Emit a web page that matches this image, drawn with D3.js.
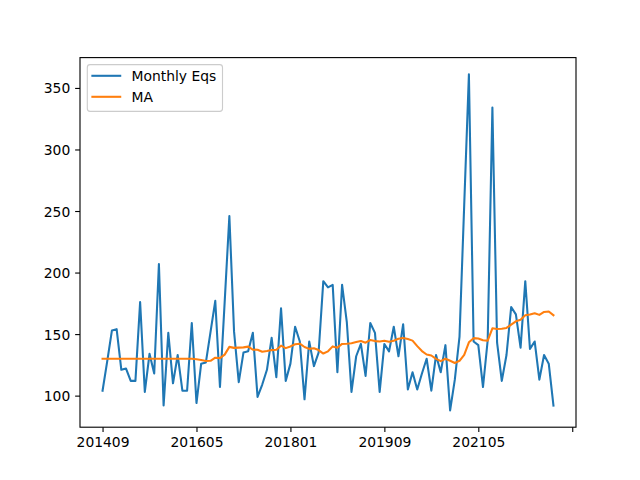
<!DOCTYPE html>
<html>
<head>
<meta charset="utf-8">
<script src="https://cdn.jsdelivr.net/npm/d3@7"></script>
<style>
  html, body { margin: 0; padding: 0; background: #ffffff; }
  svg { display: block; }
  text { font-family: "DejaVu Sans", sans-serif; }
</style>
</head>
<body>
<script>
const months = [
  "201409","201410","201411","201412",
  "201501","201502","201503","201504","201505","201506","201507","201508","201509","201510","201511","201512",
  "201601","201602","201603","201604","201605","201606","201607","201608","201609","201610","201611","201612",
  "201701","201702","201703","201704","201705","201706","201707","201708","201709","201710","201711","201712",
  "201801","201802","201803","201804","201805","201806","201807","201808","201809","201810","201811","201812",
  "201901","201902","201903","201904","201905","201906","201907","201908","201909","201910","201911","201912",
  "202001","202002","202003","202004","202005","202006","202007","202008","202009","202010","202011","202012",
  "202101","202102","202103","202104","202105","202106","202107","202108","202109","202110","202111","202112",
  "202201","202202","202203","202204","202205","202206","202207","202208","202209"
];

const monthlyEqs = [
  104,128,153,154,121,122,112,112,176,103,134,118,207,92,151,110,133,104,104,159,
  94,126,127,152,177,107,176,246,152,111,135,136,151,99,109,121,147,115,171,112,
  126,156,144,97,144,124,135,193,188,190,119,190,160,103,132,142,116,159,151,103,
  142,136,156,132,158,105,119,105,118,130,104,133,119,141,88,113,148,255,361,144,
  141,107,145,334,143,112,133,172,166,139,193,138,144,113,133,126,92
];

const movingAvg = [
  130,130,130,130,130,130,130,130,130,130,130,130,130,130,130,130,130,130,130,130,
  129.5,129,128.2,128.3,130.8,130.5,133.3,139.6,138.8,139,139.2,139.8,137.4,137.3,135.6,136.2,137,137.3,140.6,138.6,
  140,141.8,142.2,139.5,138,138.5,137,134.2,136,140,139,142,142.2,142.6,143.5,144.4,143,145.2,144.3,144,
  144.6,143.8,144.6,146.2,146.8,146,144.7,140.2,136.2,133.4,132.6,129.9,128,130,128.3,126.5,128.3,133.2,143.3,146.7,
  146.4,145,144.7,154.7,154.2,154.4,155,157.7,160.4,161.7,165.3,166,167,165.6,168,168.4,165.3
];

const xTickIndex = [0, 20, 40, 60, 80, 100];
const xTickLabels = ["201409", "201605", "201801", "201909", "202105", ""];
const yTicks = [100, 150, 200, 250, 300, 350];
const seriesNames = ["Monthly Eqs", "MA"];
const seriesColors = ["#1f77b4", "#ff7f0e"];

const W = 640, H = 480;
const L = 80, R = 576, T = 57.6, B = 427.2;
const fs = 13.89;
const tickLen = 4.86, tickPad = 4.86;

const svg = d3.select("body").append("svg").attr("width", W).attr("height", H);

const n = months.length;
const xm = (n - 1) * 0.05;
const x = d3.scaleLinear().domain([-xm, n - 1 + xm]).range([L, R]);

const allV = monthlyEqs.concat(movingAvg);
const vmin = d3.min(allV), vmax = d3.max(allV);
const ym = (vmax - vmin) * 0.05;
const y = d3.scaleLinear().domain([vmin - ym, vmax + ym]).range([B, T]);

const clipId = "plotclip";
svg.append("clipPath").attr("id", clipId)
  .append("rect").attr("x", L).attr("y", T).attr("width", R - L).attr("height", B - T);

const line = d3.line().x((d, i) => x(i)).y(d => y(d));

const plot = svg.append("g").attr("clip-path", `url(#${clipId})`);
[monthlyEqs, movingAvg].forEach((s, k) => {
  plot.append("path").datum(s)
    .attr("d", line)
    .attr("fill", "none")
    .attr("stroke", seriesColors[k])
    .attr("stroke-width", 2.08)
    .attr("stroke-linejoin", "round")
    .attr("stroke-linecap", "square");
});

// Axes using d3 axis generators
const xAxis = d3.axisBottom(x)
  .tickValues(xTickIndex)
  .tickFormat((d, i) => xTickLabels[i])
  .tickSize(tickLen).tickPadding(tickPad);
const gx = svg.append("g").attr("transform", `translate(0,${B})`).call(xAxis);
gx.select(".domain").remove();
gx.selectAll(".tick line").attr("stroke", "#000").attr("stroke-width", 1.11);
gx.selectAll(".tick text").attr("font-size", fs).attr("fill", "#000")
  .attr("font-family", "DejaVu Sans, sans-serif").attr("dy", "0.76em");

const yAxis = d3.axisLeft(y)
  .tickValues(yTicks)
  .tickFormat(d3.format("d"))
  .tickSize(tickLen).tickPadding(tickPad);
const gy = svg.append("g").attr("transform", `translate(${L},0)`).call(yAxis);
gy.select(".domain").remove();
gy.selectAll(".tick line").attr("stroke", "#000").attr("stroke-width", 1.11);
gy.selectAll(".tick text").attr("font-size", fs).attr("fill", "#000")
  .attr("font-family", "DejaVu Sans, sans-serif").attr("dy", "0.36em");

// spines
svg.append("rect").attr("x", L).attr("y", T).attr("width", R - L).attr("height", B - T)
  .attr("fill", "none").attr("stroke", "#000").attr("stroke-width", 1.11);

// legend
const lg = svg.append("g");
lg.append("rect")
  .attr("x", 87.3).attr("y", 64.6).attr("width", 135.2).attr("height", 46.8)
  .attr("rx", 2.8).attr("ry", 2.8)
  .attr("fill", "#ffffff").attr("fill-opacity", 0.8)
  .attr("stroke", "#cccccc").attr("stroke-width", 1.11);
seriesNames.forEach((name, k) => {
  const cy = 75.8 + k * 21;
  lg.append("line").attr("x1", 92.4).attr("x2", 120.2).attr("y1", cy).attr("y2", cy)
    .attr("stroke", seriesColors[k]).attr("stroke-width", 2.08).attr("stroke-linecap", "square");
  lg.append("text").attr("x", 131.5).attr("y", cy).attr("dy", "0.36em")
    .attr("font-size", fs).attr("fill", "#000").text(name);
});
</script>
</body>
</html>
